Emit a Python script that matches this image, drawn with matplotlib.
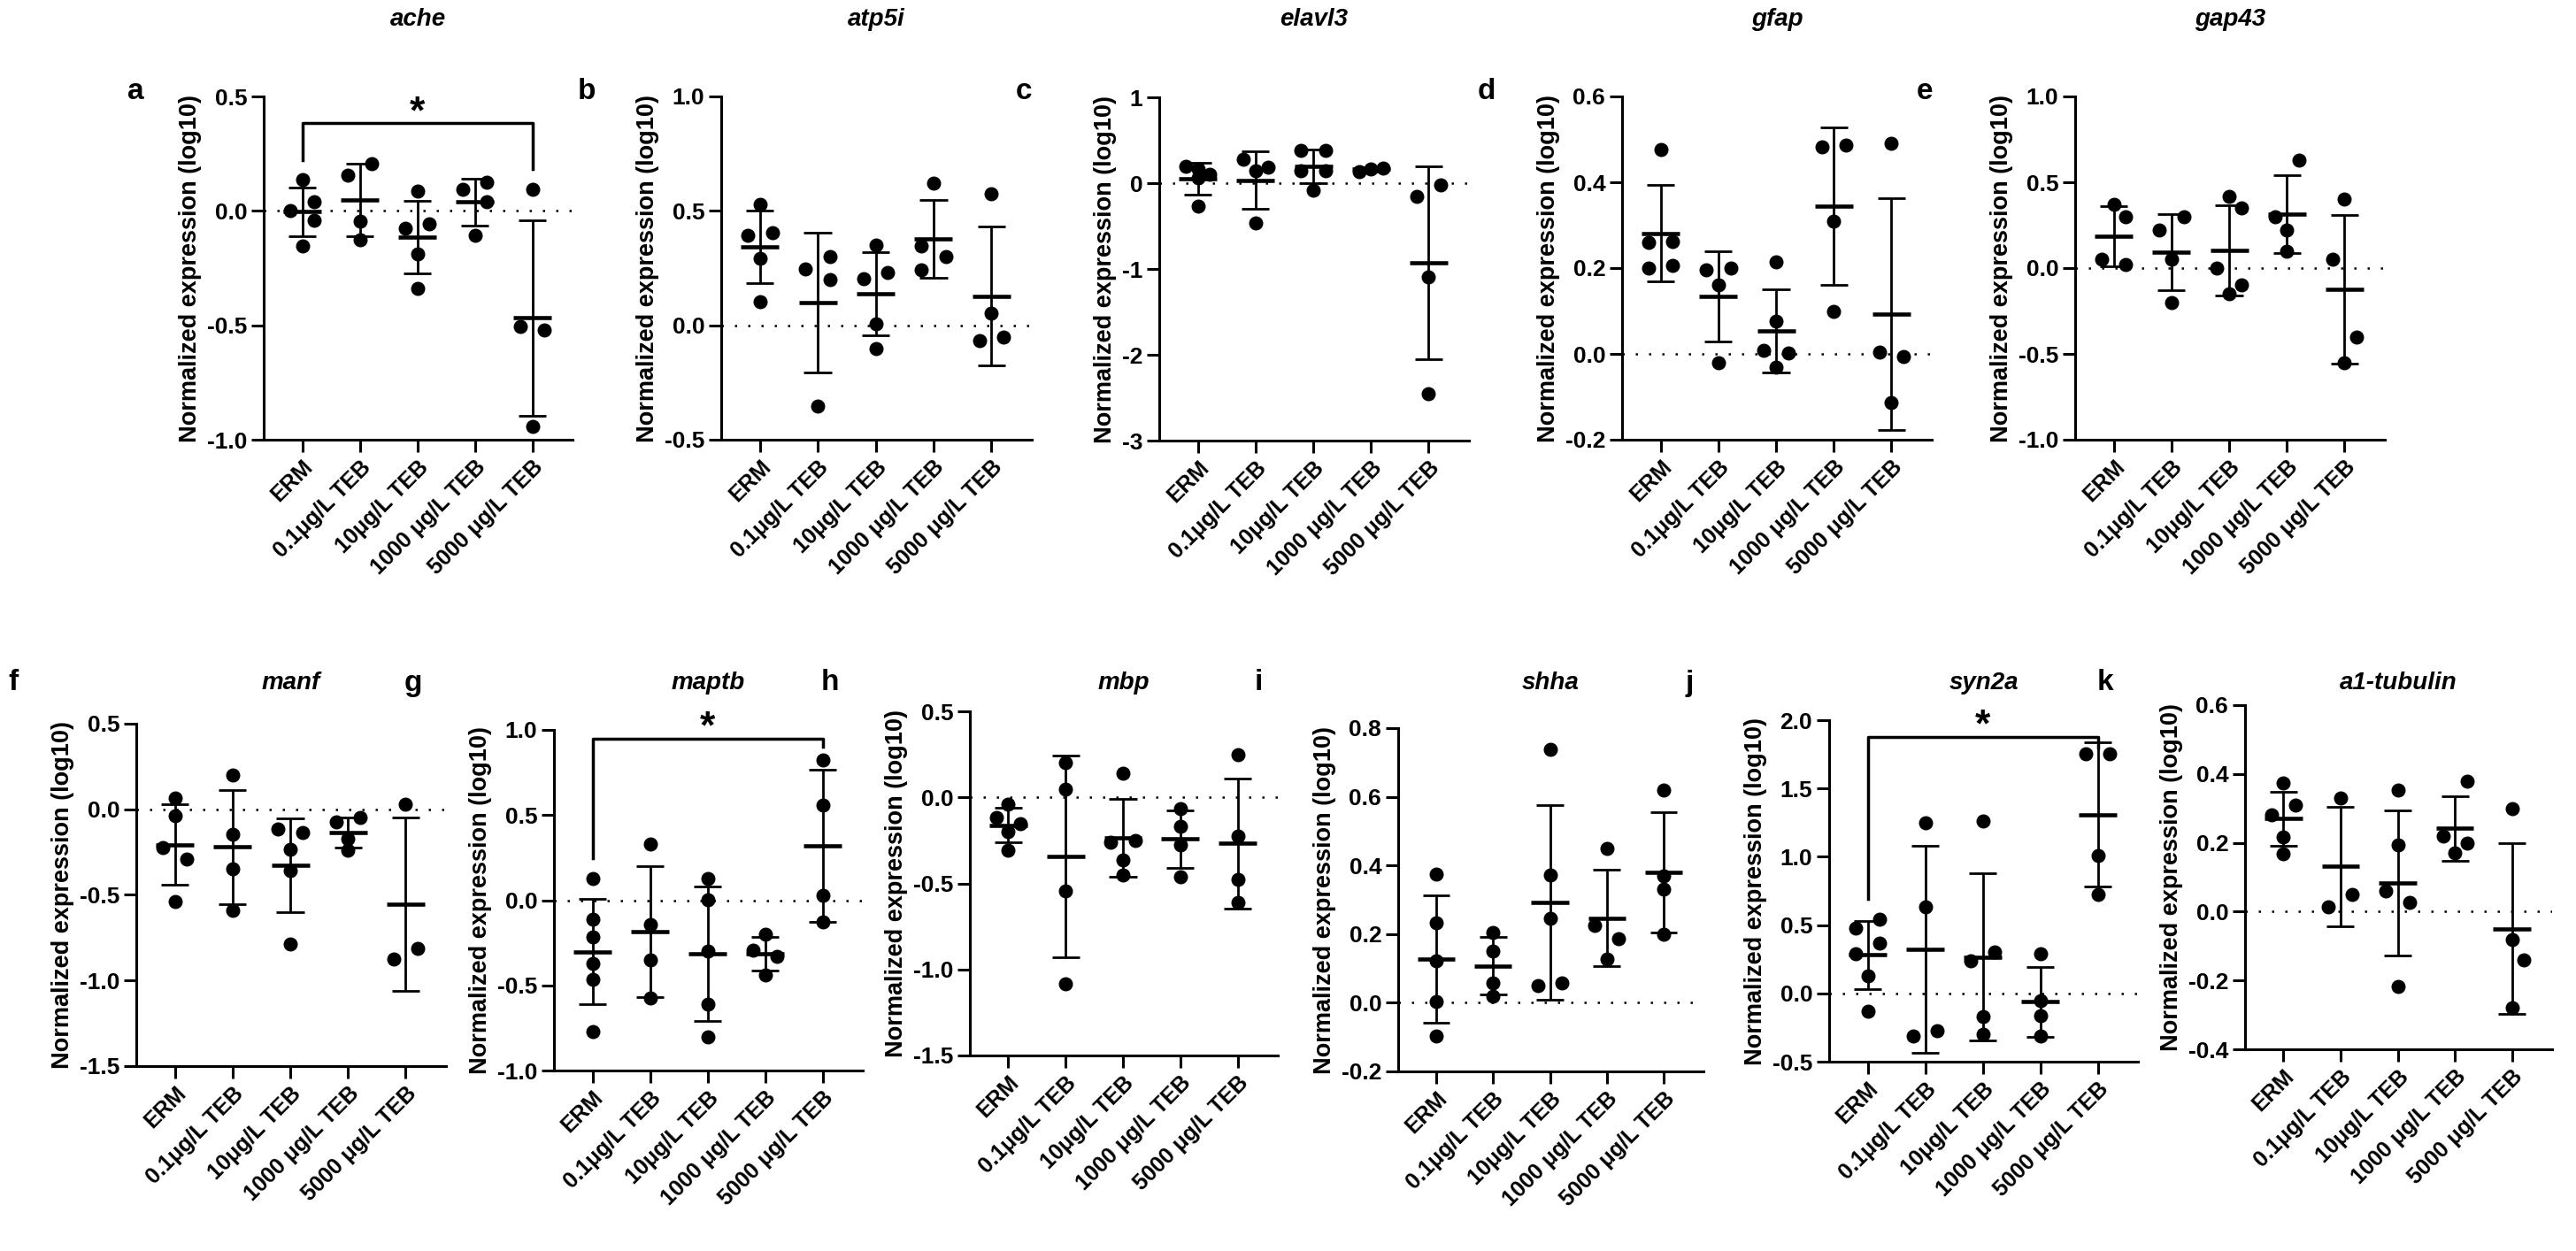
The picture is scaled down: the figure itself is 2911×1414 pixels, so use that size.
import numpy as np
import matplotlib
matplotlib.use("Agg")
import matplotlib.pyplot as plt

plt.rcParams['font.family'] = ['Liberation Sans', 'DejaVu Sans']
plt.rcParams['font.weight'] = 'bold'
plt.rcParams['axes.unicode_minus'] = False

# figure size in pixels (dpi 100)
W, H = 2911, 1414

groups = ["ERM", "0.1μg/L TEB", "10μg/L TEB", "1000 μg/L TEB", "5000 μg/L TEB"]

# log10 normalized expression, one list per exposure group
ache = [[0.138, 0.0, 0.04, -0.04, -0.152],
        [0.155, 0.206, -0.045, -0.126],
        [0.086, -0.075, -0.055, -0.188, -0.339],
        [0.095, 0.125, 0.041, -0.107],
        [0.095, -0.506, -0.519, -0.941]]
atp5i = [[0.527, 0.394, 0.404, 0.293, 0.103],
         [0.248, 0.3, 0.199, -0.355],
         [0.349, 0.204, 0.23, 0.006, -0.1],
         [0.623, 0.346, 0.3, 0.243],
         [0.576, 0.054, -0.066, -0.053]]
elavl3 = [[0.2, 0.17, 0.1, 0.06, -0.27],
          [0.281, 0.144, 0.185, -0.466],
          [0.384, 0.384, 0.144, 0.144, -0.079],
          [0.13, 0.17, 0.18],
          [-0.15, -0.02, -1.09, -2.45]]
gfap = [[0.477, 0.26, 0.262, 0.201, 0.207],
        [0.195, 0.201, 0.16, -0.021],
        [0.214, 0.076, 0.008, 0.002, -0.031],
        [0.482, 0.487, 0.309, 0.1],
        [0.49, 0.0035, -0.006, -0.114]]
gap43 = [[0.37, 0.3, 0.05, 0.02],
         [0.3, 0.22, 0.05, -0.2],
         [0.42, 0.35, 0.0, -0.1, -0.15],
         [0.63, 0.3, 0.22, 0.1],
         [0.4, 0.05, -0.4, -0.55]]
manf = [[0.064, -0.04, -0.223, -0.293, -0.537],
        [0.199, -0.145, -0.345, -0.592],
        [-0.115, -0.136, -0.235, -0.359, -0.789],
        [-0.075, -0.049, -0.171, -0.24],
        [0.03, -0.876, -0.815]]
maptb = [[0.128, -0.114, -0.218, -0.374, -0.464, -0.772],
         [0.329, -0.144, -0.351, -0.576],
         [0.128, 0.003, -0.299, -0.611, -0.801],
         [-0.2, -0.296, -0.33, -0.438],
         [0.825, 0.561, 0.026, -0.126]]
mbp = [[-0.038, -0.115, -0.152, -0.2, -0.307],
       [0.202, 0.048, -0.543, -1.082],
       [0.142, -0.26, -0.252, -0.363, -0.449],
       [-0.067, -0.166, -0.277, -0.461],
       [0.248, -0.226, -0.478, -0.611]]
shha = [[0.374, 0.233, 0.122, 0.003, -0.097],
        [0.204, 0.15, 0.058, 0.019],
        [0.739, 0.371, 0.245, 0.049, 0.058],
        [0.45, 0.224, 0.187, 0.127],
        [0.62, 0.37, 0.33, 0.2]]
syn2a = [[0.478, 0.543, 0.371, 0.291, 0.129, -0.129],
         [1.25, 0.636, -0.312, -0.276],
         [1.261, 0.241, 0.302, -0.168, -0.302],
         [0.289, -0.056, -0.164, -0.315],
         [1.754, 1.754, 1.006, 0.726]]
a1_tubulin = [[0.373, 0.309, 0.281, 0.218, 0.169],
              [0.33, 0.015, 0.049],
              [0.352, 0.195, 0.06, 0.027, -0.217],
              [0.38, 0.22, 0.2, 0.17],
              [0.3, -0.08, -0.14, -0.28]]

# side of each dot in the scatter column (-1 left, 0 centre, 1 right)
ache_side = [[0, -1, 1, 1, 0], [-1, 1, 0, 0], [0, -1, 1, 0, 0], [-1, 1, 1, 0], [0, -1, 1, 0]]
atp5i_side = [[0, -1, 1, 0, 0], [-1, 1, 1, 0], [0, -1, 1, 0, 0], [0, -1, 1, -1], [0, 0, -1, 1]]
elavl3_side = [[-1, 0, 1, 0, 0], [-1, 0, 1, 0], [-1, 1, -1, 1, 0], [-1, 0, 1], [-1, 1, 0, 0]]
gfap_side = [[0, -1, 1, -1, 1], [-1, 1, 0, 0], [0, 0, -1, 1, 0], [-1, 1, 0, 0], [0, -1, 1, 0]]
gap43_side = [[0, 1, -1, 1], [1, -1, 0, 0], [0, 1, -1, 1, 0], [1, -1, 0, 0], [0, -1, 1, 0]]
manf_side = [[0, 0, -1, 1, 0], [0, 0, 0, 0], [-1, 1, 0, 0, 0], [-1, 1, 0, 0], [0, -1, 1]]
maptb_side = [[0] * 6, [0] * 4, [0] * 5, [0, -1, 1, 0], [0] * 4]
mbp_side = [[0, -1, 1, 0, 0], [0] * 4, [0, -1, 1, 0, 0], [0] * 4, [0] * 4]
shha_side = [[0] * 5, [0] * 4, [0, 0, 0, -1, 1], [0, -1, 1, 0], [0] * 4]
syn2a_side = [[-1, 1, 1, -1, 0, 0], [0, 0, -1, 1], [0, -1, 1, 0, 0], [0] * 4, [-1, 1, 0, 0]]
a1_tubulin_side = [[0, 1, -1, 0, 0], [0, -1, 1], [0, 0, -1, 1, 0], [1, -1, 1, 0], [0, 0, 1, 0]]

# panel: letter, gene, data, sides, axes box (px: left, top, right, bottom), yticks, letter pos (px)
panels = [
    ("a", "ache", ache, ache_side, (298, 109, 647, 497), [-1.0, -0.5, 0.0, 0.5], (153, 103)),
    ("b", "atp5i", atp5i, atp5i_side, (815, 109, 1166, 497), [-0.5, 0.0, 0.5, 1.0], (663, 103)),
    ("c", "elavl3", elavl3, elavl3_side, (1310, 110, 1660, 498), [-3, -2, -1, 0, 1], (1157, 103)),
    ("d", "gfap", gfap, gfap_side, (1833, 109, 2183, 497), [-0.2, 0.0, 0.2, 0.4, 0.6], (1680, 103)),
    ("e", "gap43", gap43, gap43_side, (2345, 109, 2695, 497), [-1.0, -0.5, 0.0, 0.5, 1.0], (2175, 103)),
    ("f", "manf", manf, manf_side, (154, 818, 504, 1205), [-1.5, -1.0, -0.5, 0.0, 0.5], (15, 772)),
    ("g", "maptb", maptb, maptb_side, (626, 825, 975, 1210), [-1.0, -0.5, 0.0, 0.5, 1.0], (467, 772)),
    ("h", "mbp", mbp, mbp_side, (1096, 804, 1444, 1193), [-1.5, -1.0, -0.5, 0.0, 0.5], (938, 772)),
    ("i", "shha", shha, shha_side, (1580, 823, 1925, 1211), [-0.2, 0.0, 0.2, 0.4, 0.6, 0.8], (1422, 772)),
    ("j", "syn2a", syn2a, syn2a_side, (2067, 814, 2416, 1200), [-0.5, 0.0, 0.5, 1.0, 1.5, 2.0], (1909, 772)),
    ("k", "a1-tubulin", a1_tubulin, a1_tubulin_side, (2537, 797, 2884, 1186), [-0.4, -0.2, 0.0, 0.2, 0.4, 0.6], (2379, 772)),
]

# significance brackets ERM vs 5000: letter -> (bracket y, left leg end, right leg end)
brackets = {
    "a": (0.384, 0.222, 0.183),
    "g": (0.95, 0.246, 0.9),
    "j": (1.88, 0.69, 1.8),
}


def draw_panel(ax, data, sides):
    for i, (vals, sd) in enumerate(zip(data, sides)):
        v = np.array(vals)
        m = v.mean()
        s = v.std(ddof=1)
        # SD bar and caps
        ax.vlines(i, m - s, m + s, color="black", lw=2, zorder=2)
        ax.hlines([m - s, m + s], i - 0.24, i + 0.24, color="black", lw=2, zorder=2)
        # mean line
        ax.hlines(m, i - 0.33, i + 0.33, color="black", lw=3.3, zorder=2)
        # individual fish
        ax.plot(i + 0.21 * np.array(sd), v, "o", color="black", ms=10.5, zorder=3, clip_on=False)


fig = plt.figure(figsize=(W / 100, H / 100), dpi=100)

for letter, gene, data, sides, box, yticks, lpos in panels:
    l, t, r, b = box
    ax = fig.add_axes([l / W, 1 - b / H, (r - l) / W, (b - t) / H])
    draw_panel(ax, data, sides)
    ax.axhline(0, color="black", lw=1.8, ls=(0, (1, 5)), zorder=1)

    ax.set_xlim(-0.67, 4.7)
    ax.set_ylim(yticks[0], yticks[-1])
    ax.set_yticks(yticks)
    if letter == "c":
        ax.set_yticklabels([f"{t:d}" for t in yticks])
    else:
        ax.set_yticklabels([f"{t:.1f}" for t in yticks])
    ax.set_xticks(range(len(groups)))
    ax.set_xticklabels(groups, rotation=45, ha="right", rotation_mode="anchor", fontsize=18)
    ax.tick_params(axis="y", labelsize=19, length=10, width=2.2, direction="out")
    ax.tick_params(axis="x", length=10, width=2.2, direction="out")
    for sp in ("top", "right"):
        ax.spines[sp].set_visible(False)
    for sp in ("left", "bottom"):
        ax.spines[sp].set_linewidth(2.2)
    ax.set_ylabel("Normalized expression (log10)", fontsize=19.5, fontweight="bold")

    # gene title
    ty = 22 if t < 400 else 772
    fig.text((l + r) / 2 / W, 1 - ty / H, gene, fontsize=20, fontweight="bold",
             fontstyle="italic", ha="center", va="center")
    # panel letter
    fig.text(lpos[0] / W, 1 - lpos[1] / H, letter, fontsize=24, fontweight="bold",
             ha="center", va="center")

    if letter in brackets:
        yb, y0, y4 = brackets[letter]
        ax.plot([0, 0, 4, 4], [y0, yb, yb, y4], color="black", lw=2.5, clip_on=False)
        ax.text(2, yb, "*", fontsize=32, fontweight="bold", ha="center", va="baseline")

fig.savefig("out.png", dpi=100)
